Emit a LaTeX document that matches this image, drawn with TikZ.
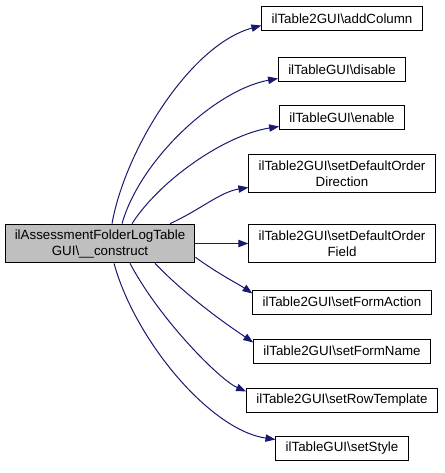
\documentclass[tikz,border=0pt]{standalone}
\usepackage{fontspec}
\setmainfont{Liberation Sans}
\usetikzlibrary{arrows.meta}
\definecolor{edgeblue}{HTML}{191970}
\definecolor{maingray}{HTML}{BFBFBF}
\tikzset{
  box/.style={draw=black, line width=0.75pt, fill=white, inner xsep=7.3pt, inner ysep=0pt, align=center, font=\fontsize{10}{12}\selectfont, minimum height=18pt},
  twoline/.style={minimum height=28.5pt},
  mainbox/.style={box, fill=maingray, minimum height=29pt},
  edge/.style={draw=edgeblue, line width=0.75pt, -{Triangle[length=7.5pt,width=5.5pt]}}
}
\begin{document}
\begin{tikzpicture}[x=0.75pt,y=-0.75pt]
\useasboundingbox (0,0) rectangle (444,473);
\node[mainbox] (main) at (100,243.5) {ilAssessmentFolderLogTable\\GUI\textbackslash\_\_construct};
\node[box] (t1) at (342,19) {ilTable2GUI\textbackslash addColumn};
\node[box] (t2) at (342,70) {ilTableGUI\textbackslash disable};
\node[box] (t3) at (342,118) {ilTableGUI\textbackslash enable};
\node[box,twoline] (t4) at (342,174) {ilTable2GUI\textbackslash setDefaultOrder\\Direction};
\node[box,twoline] (t5) at (342,243.5) {ilTable2GUI\textbackslash setDefaultOrder\\Field};
\node[box] (t6) at (342,302) {ilTable2GUI\textbackslash setFormAction};
\node[box] (t7) at (342,351) {ilTable2GUI\textbackslash setFormName};
\node[box] (t8) at (342,400) {ilTable2GUI\textbackslash setRowTemplate};
\node[box] (t9) at (342,448) {ilTableGUI\textbackslash setStyle};

\draw[edge] ([shift={(12,0)}]main.north) .. controls (125,150) and (190,45) .. ([shift={(0,-6)}]t1.south west);
\draw[edge] ([shift={(22,0)}]main.north) .. controls (140,160) and (215,90) .. ([shift={(0,-4)}]t2.south west);
\draw[edge] ([shift={(32,0)}]main.north) .. controls (160,180) and (225,135) .. ([shift={(0,-4)}]t3.south west);
\draw[edge] ([shift={(70,0)}]main.north) .. controls (200,210) and (220,192) .. ([shift={(0,-6)}]t4.south west);
\draw[edge] (main.east) -- (t5.west);
\draw[edge] ([shift={(0,-6)}]main.south east) .. controls (220,275) and (240,285) .. ([shift={(0,4)}]t6.north west);
\draw[edge] ([shift={(55,0)}]main.south) .. controls (190,300) and (235,330) .. ([shift={(0,4)}]t7.north west);
\draw[edge] ([shift={(30,0)}]main.south) .. controls (160,320) and (220,380) .. ([shift={(0,4)}]t8.north west);
\draw[edge] ([shift={(14,0)}]main.south) .. controls (135,340) and (210,430) .. ([shift={(0,4)}]t9.north west);
\end{tikzpicture}
\end{document}
